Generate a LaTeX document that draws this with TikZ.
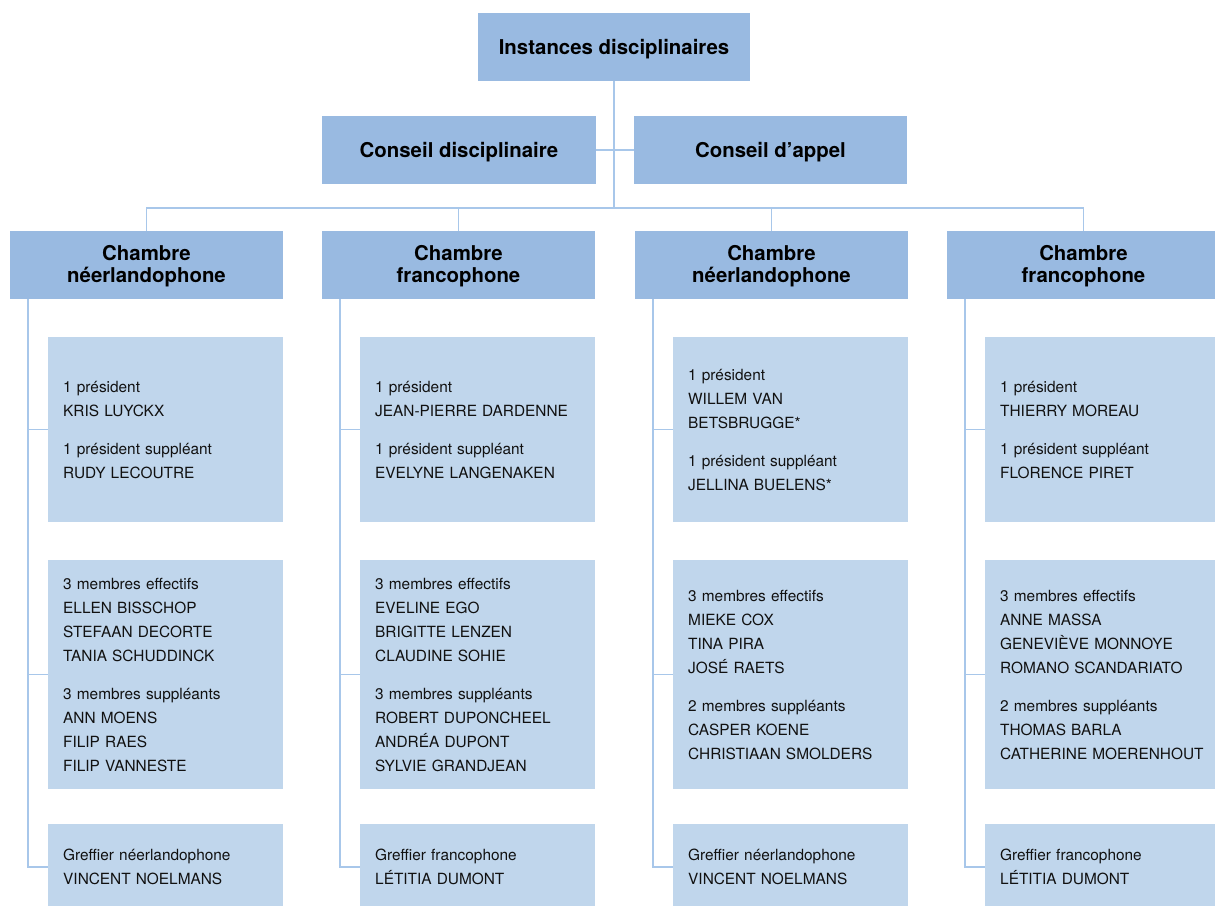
\documentclass[tikz,border=0pt]{standalone}
\usepackage{fontspec}
\setmainfont{TeX Gyre Heros}
\usetikzlibrary{positioning}
\definecolor{boxDark}{HTML}{99BAE1}
\definecolor{boxLight}{HTML}{C0D6EC}
\definecolor{linkBlue}{HTML}{A8C7EA}
\definecolor{textDark}{HTML}{111111}

\begin{document}
\begin{tikzpicture}[x=1pt,y=-1pt,
  headBox/.style={fill=boxDark,minimum width=273,minimum height=68,inner sep=0,
    align=center,font=\bfseries\fontsize{20.4}{22}\selectfont,
    text height=20pt,text depth=4.5pt},
  chamberBox/.style={headBox,text height=39pt,text depth=4pt},
  memberBox/.style={fill=boxLight,anchor=north west,text width=205,inner xsep=15,
    inner ysep=0,align=left,text=textDark,font=\fontsize{15.4}{24}\selectfont},
  link/.style={linkBlue,line width=1.5}]
\useasboundingbox (0,0) rectangle (1215,905);

% top levels
\node[headBox,minimum width=272] (top) at (614,47) {Instances disciplinaires};
\node[headBox,minimum width=274] (cd) at (459,150) {Conseil disciplinaire};
\node[headBox] (ca) at (770.5,150) {Conseil d’appel};
\coordinate (bus) at (614,208);

% chambres
\node[chamberBox] (ch1) at (146.5,265) {Chambre\\néerlandophone};
\node[chamberBox] (ch2) at (458.5,265) {Chambre\\francophone};
\node[chamberBox] (ch3) at (771.5,265) {Chambre\\néerlandophone};
\node[chamberBox] (ch4) at (1083.5,265) {Chambre\\francophone};

% presidents
\node[memberBox,minimum height=185] (p1) at (48,337)
  {1 président\\KRIS LUYCKX\\[14pt]1 président suppléant\\RUDY LECOUTRE};
\node[memberBox,minimum height=185] (p2) at (360,337)
  {1 président\\JEAN-PIERRE DARDENNE\\[14pt]1 président suppléant\\EVELYNE LANGENAKEN};
\node[memberBox,minimum height=185] (p3) at (673,337)
  {1 président\\WILLEM VAN\\BETSBRUGGE*\\[14pt]1 président suppléant\\JELLINA BUELENS*};
\node[memberBox,minimum height=185] (p4) at (985,337)
  {1 président\\THIERRY MOREAU\\[14pt]1 président suppléant\\FLORENCE PIRET};

% membres
\node[memberBox,minimum height=229] (m1) at (48,560)
  {3 membres effectifs\\ELLEN BISSCHOP\\STEFAAN DECORTE\\TANIA SCHUDDINCK\\[14pt]%
   3 membres suppléants\\ANN MOENS\\FILIP RAES\\FILIP VANNESTE};
\node[memberBox,minimum height=229] (m2) at (360,560)
  {3 membres effectifs\\EVELINE EGO\\BRIGITTE LENZEN\\CLAUDINE SOHIE\\[14pt]%
   3 membres suppléants\\ROBERT DUPONCHEEL\\ANDRÉA DUPONT\\SYLVIE GRANDJEAN};
\node[memberBox,minimum height=229] (m3) at (673,560)
  {3 membres effectifs\\MIEKE COX\\TINA PIRA\\JOSÉ RAETS\\[14pt]%
   2 membres suppléants\\CASPER KOENE\\CHRISTIAAN SMOLDERS};
\node[memberBox,minimum height=229] (m4) at (985,560)
  {3 membres effectifs\\ANNE MASSA\\GENEVIÈVE MONNOYE\\ROMANO SCANDARIATO\\[14pt]%
   2 membres suppléants\\THOMAS BARLA\\CATHERINE MOERENHOUT};

% greffiers
\node[memberBox,minimum height=86] (g1) at (48,824) {Greffier néerlandophone\\VINCENT NOELMANS};
\node[memberBox,minimum height=86] (g2) at (360,824) {Greffier francophone\\LÉTITIA DUMONT};
\node[memberBox,minimum height=86] (g3) at (673,824) {Greffier néerlandophone\\VINCENT NOELMANS};
\node[memberBox,minimum height=86] (g4) at (985,824) {Greffier francophone\\LÉTITIA DUMONT};

% connectors
\draw[link] (top) -- (bus);
\draw[link] (cd) -- (ca);
\draw[link] (ch1.north) -- (ch1.north |- bus) -- (ch4.north |- bus) -- (ch4.north);
\draw[link] (ch2.north) -- (ch2.north |- bus);
\draw[link] (ch3.north) -- (ch3.north |- bus);
\foreach \c in {1,...,4}{
  \draw[link] (ch\c.south west) ++(18,0) coordinate (t\c) -- (t\c |- g\c.west) -- (g\c.west);
  \draw[link] (t\c |- p\c.west) -- (p\c.west);
  \draw[link] (t\c |- m\c.west) -- (m\c.west);
}
\end{tikzpicture}
\end{document}
